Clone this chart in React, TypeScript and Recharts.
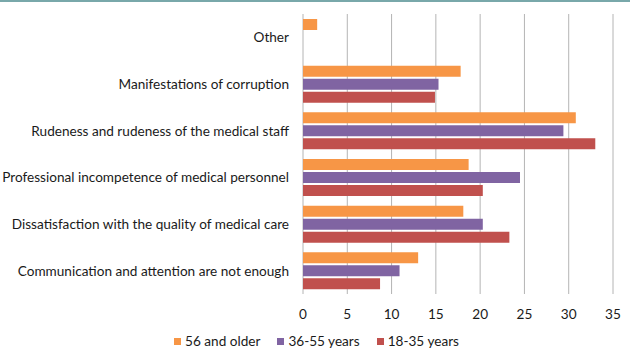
import React from "react";
import { BarChart, Bar, XAxis, YAxis, CartesianGrid, Legend } from "recharts";

// Reasons for dissatisfaction, by age group (%)
const categories = [
  "Other",
  "Manifestations of corruption",
  "Rudeness and rudeness of the medical staff",
  "Professional incompetence of medical personnel",
  "Dissatisfaction with the quality of medical care",
  "Communication and attention are not enough",
];
const olderValues = [1.6, 17.8, 30.8, 18.7, 18.1, 13.0];
const middleValues = [0, 15.3, 29.4, 24.5, 20.3, 10.9];
const youngValues = [0, 14.9, 33.0, 20.3, 23.3, 8.7];
const xTicks = [0, 5, 10, 15, 20, 25, 30, 35];

const seriesNames = ["56 and older", "36-55 years", "18-35 years"];
const seriesColors = ["#F79646", "#8064A2", "#C0504D"];

const data = categories.map((name, i) => ({
  name,
  older: olderValues[i] || null,
  middle: middleValues[i] || null,
  young: youngValues[i] || null,
}));

const FONT = "Lato, 'Open Sans', sans-serif";
const TEXT = "#1a1a1a";

// Single-line category label, right-aligned against the value axis
const CategoryTick = (props: any) => {
  const { x, y, payload } = props;
  return (
    <text x={x} y={y} dy="0.36em" textAnchor="end" fill={TEXT} fontSize={13.6} fontFamily={FONT}>
      {payload.value}
    </text>
  );
};

const LegendContent = () => (
  <div
    style={{
      display: "flex",
      justifyContent: "center",
      alignItems: "center",
      fontFamily: FONT,
      fontSize: 13.6,
      color: TEXT,
      paddingLeft: 20,
      marginTop: 1,
    }}
  >
    {seriesNames.map((n, i) => (
      <div key={n} style={{ display: "flex", alignItems: "center", marginRight: i < 2 ? 17 : 0 }}>
        <span
          style={{
            display: "inline-block",
            width: 7,
            height: 7,
            background: seriesColors[i],
            marginRight: 4,
          }}
        />
        <span>{n}</span>
      </div>
    ))}
  </div>
);

export default function App() {
  return (
    <div style={{ position: "absolute", left: 0, top: 0, width: 630, height: 349, background: "#fff" }}>
      <div style={{ position: "absolute", left: 0, top: 0, width: 630, height: 2, background: "#79A8AA" }} />
      <BarChart
        width={630}
        height={349}
        data={data}
        layout="vertical"
        margin={{ top: 14, right: 17, bottom: 2, left: 0 }}
        barSize={11}
        barGap={2}
      >
        <CartesianGrid horizontal={false} stroke="#b4b4b4" strokeWidth={1} />
        <XAxis
          type="number"
          domain={[0, 35]}
          ticks={xTicks}
          interval={0}
          axisLine={false}
          tickLine={false}
          tickSize={0}
          tickMargin={15}
          height={38}
          tick={{ fill: TEXT, fontSize: 13.6, fontFamily: FONT }}
        />
        <YAxis
          type="category"
          dataKey="name"
          width={303}
          axisLine={false}
          tickLine={false}
          tickSize={0}
          tickMargin={14}
          interval={0}
          tick={<CategoryTick />}
        />
        <Legend verticalAlign="bottom" height={15} content={<LegendContent />} />
        <Bar dataKey="older" name={seriesNames[0]} fill={seriesColors[0]} isAnimationActive={false} />
        <Bar dataKey="middle" name={seriesNames[1]} fill={seriesColors[1]} isAnimationActive={false} />
        <Bar dataKey="young" name={seriesNames[2]} fill={seriesColors[2]} isAnimationActive={false} />
      </BarChart>
    </div>
  );
}
